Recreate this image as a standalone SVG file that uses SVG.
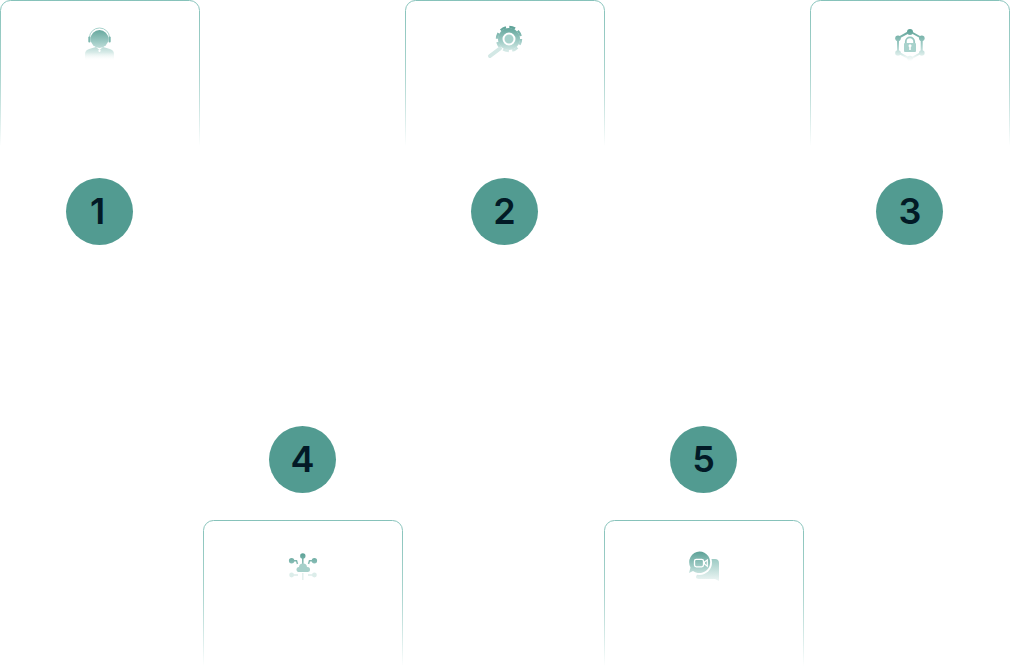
<svg xmlns="http://www.w3.org/2000/svg" width="1010" height="671" viewBox="0 0 1010 671">
<style>
.card{fill:none;stroke:url(#cardStroke);stroke-width:1}
.badge{fill:#529b91}
.num{font-family:Inter,"Liberation Sans",sans-serif;font-size:36px;font-weight:600;fill:#021a26;text-anchor:middle}
.ico{fill:url(#iconFill)}
.line{fill:none;stroke:url(#iconFill);stroke-width:1.5}
.cut{fill:#fff}
</style>
<defs>
<linearGradient id="cardStroke" gradientUnits="userSpaceOnUse" x1="0" y1="0" x2="0" y2="146">
<stop offset="0" stop-color="#86c2ba"/><stop offset="0.45" stop-color="#a5d2cb"/><stop offset="1" stop-color="#86c2ba" stop-opacity="0"/>
</linearGradient>
<linearGradient id="iconFill" gradientUnits="userSpaceOnUse" x1="0" y1="0" x2="0" y2="34">
<stop offset="0" stop-color="#5aa095"/><stop offset="0.45" stop-color="#a0ccc6"/><stop offset="0.75" stop-color="#d8ebe8"/><stop offset="1" stop-color="#ffffff" stop-opacity="0"/>
</linearGradient>
<linearGradient id="bubble2" gradientUnits="userSpaceOnUse" x1="0" y1="8" x2="0" y2="30">
<stop offset="0" stop-color="#9ccbc4"/><stop offset="1" stop-color="#eef6f5"/>
</linearGradient>
<path id="cardShape" d="M0.5 146V10.500a10 10 0 0 1 10-10H189.500a10 10 0 0 1 10 10V146"/>
</defs>
<g id="connectors"/>
<g id="node-1">
<use href="#cardShape" class="card"/>
<g transform="translate(0 27)">
<circle class="ico" cx="99.500" cy="12" r="9"/>
<path fill="none" stroke="#a9d3cd" stroke-width="1" d="M89.500 12V10.500a10 9.500 0 0 1 20 0V12"/>
<rect x="88.300" y="9.500" width="2.200" height="6" rx="1" fill="#7db8af"/>
<rect x="108.500" y="9.500" width="2.200" height="6" rx="1" fill="#7db8af"/>
<path class="ico" d="M85 33V27c0-3 2-4.300 5-5.200L96 20 99.500 23 103 20 109 21.800c3 .9 5 2.200 5 5.200V33Z"/>
<path class="cut" d="M98.300 23h2.400L100.200 25H98.800Z"/>
</g>
<circle class="badge" cx="99.500" cy="211.500" r="33.500"/>
<text class="num" x="97.500" y="224">1</text>
</g>
<g id="node-2">
<use href="#cardShape" class="card" transform="translate(405 0)"/>
<g transform="translate(0 26)">
<circle class="ico" cx="509" cy="13" r="11"/>
<circle cx="509" cy="13" r="12" fill="none" stroke="url(#iconFill)" stroke-width="2.400" stroke-dasharray="6 3.420"/>
<circle cx="509" cy="13" r="5.500" fill="#a8d2cc" stroke="#fff" stroke-width="2"/>
<path d="M500 22.500 490 30" fill="none" stroke="#d3e8e5" stroke-width="4" stroke-linecap="round"/>
</g>
<circle class="badge" cx="504.500" cy="211.500" r="33.500"/>
<text class="num" x="504.500" y="224">2</text>
</g>
<g id="node-3">
<use href="#cardShape" class="card" transform="translate(810 0)"/>
<g transform="translate(0 29)">
<path class="line" style="stroke-width:2" d="M910 2.500 921.700 9V23.500L910 30 898 23.500V9Z"/>
<circle class="ico" cx="910" cy="3" r="3"/><circle class="ico" cx="921.800" cy="9.300" r="2.800"/><circle class="ico" cx="898" cy="9.300" r="2.800"/>
<circle class="ico" cx="921.800" cy="24" r="2.800"/><circle class="ico" cx="898" cy="24" r="2.800"/><circle class="ico" cx="910" cy="29.500" r="2.800"/>
<path fill="none" stroke="#98c8c1" stroke-width="1.800" d="M905.800 14.500V12.500a4.200 4.200 0 0 1 8.400 0V14.500"/>
<rect x="904" y="14" width="12" height="9" rx="1" fill="#a8d2cc"/>
<path class="cut" d="M909.200 17h1.600V21h-1.600Z"/>
<circle class="cut" cx="910" cy="16.800" r="1.500"/>
</g>
<circle class="badge" cx="909.500" cy="211.500" r="33.500"/>
<text class="num" x="910" y="224">3</text>
</g>
<g id="node-4">
<use href="#cardShape" class="card" transform="translate(203 520)"/>
<g transform="translate(0 553)">
<circle class="ico" cx="302.800" cy="3" r="2.700"/><path class="line" d="M302.800 5V11"/>
<circle class="ico" cx="291.600" cy="7.800" r="2.700"/><path class="line" d="M293 7.800H296.500L297.500 11"/>
<circle class="ico" cx="314.400" cy="7.800" r="2.700"/><path class="line" d="M313 7.800H309.500L308.500 11"/>
<g fill="#a6d0ca"><circle cx="303" cy="14.500" r="4"/><circle cx="299" cy="16.500" r="2.500"/><circle cx="307.500" cy="16.500" r="2.500"/><rect x="298" y="15.500" width="10" height="3.500"/></g>
<circle cx="291.600" cy="22" r="2.400" fill="#dcedea"/><path d="M293 22H298" fill="none" stroke="#dcedea" stroke-width="1.500"/>
<circle cx="314.400" cy="22" r="2.400" fill="#dcedea"/><path d="M313 22H308" fill="none" stroke="#dcedea" stroke-width="1.500"/>
<path d="M302.800 20V27" fill="none" stroke="#e3f0ee" stroke-width="1.500"/>
</g>
<circle class="badge" cx="302.500" cy="459.500" r="33.500"/>
<text class="num" x="302.500" y="472">4</text>
</g>
<g id="node-5">
<use href="#cardShape" class="card" transform="translate(604 520)"/>
<g transform="translate(0 551)">
<path d="M703 8h12c2.500 0 4 1.500 4 4V30L715 28H699c-2 0-3-1-3-2Z" fill="url(#bubble2)"/>
<circle cx="699.500" cy="11.500" r="12.500" fill="#fff"/>
<path class="ico" d="M699.500 0.500a10.800 10.800 0 1 1-6.500 19.500L689 22l1.500-5.500A10.800 10.800 0 0 1 699.500 0.500Z"/>
<rect x="694.500" y="8.300" width="9" height="7.500" rx="1.800" fill="none" stroke="#fff" stroke-width="1.300"/>
<path d="M704.500 11 707.300 9V15.200L704.500 13Z" fill="none" stroke="#fff" stroke-width="1.200"/>
</g>
<circle class="badge" cx="703.500" cy="459.500" r="33.500"/>
<text class="num" x="703.500" y="472">5</text>
</g>
</svg>
